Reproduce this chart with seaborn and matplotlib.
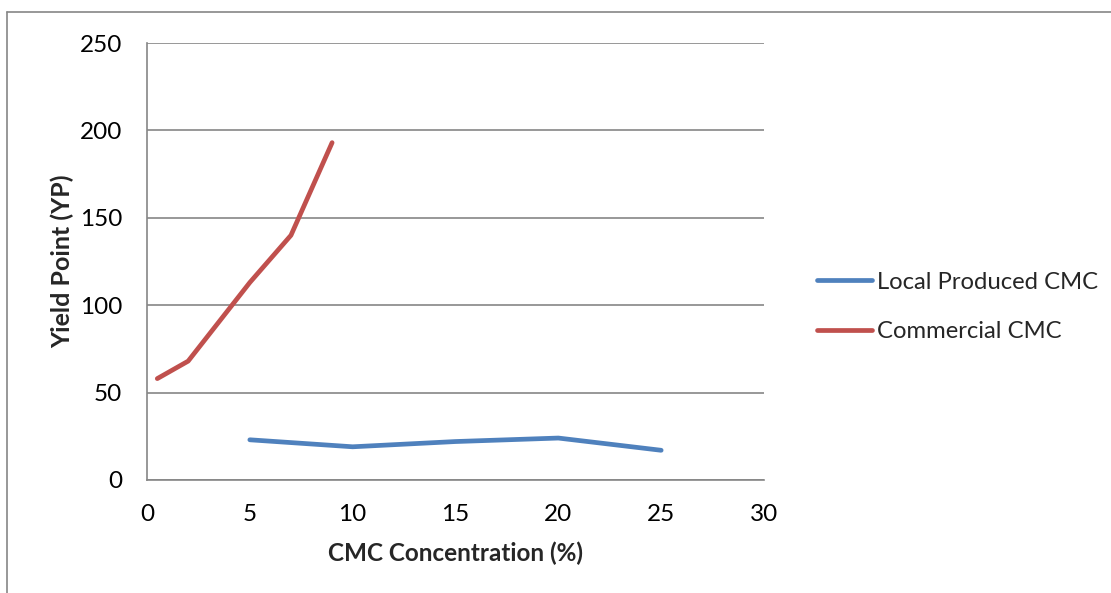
import matplotlib
matplotlib.use("Agg")
import matplotlib.pyplot as plt
import seaborn as sns
import pandas as pd
from matplotlib.lines import Line2D

# Data
local_x = [5, 10, 15, 20, 25]
local_y = [23, 19, 22, 24, 17]
comm_x = [0.5, 2, 5, 7, 9]
comm_y = [58, 68, 113, 140, 193]
series_names = ["Local Produced CMC", "Commercial CMC"]
colors = ["#4F81BD", "#C0504D"]
x_ticks = [0, 5, 10, 15, 20, 25, 30]
y_ticks = [0, 50, 100, 150, 200, 250]

df = pd.concat([
    pd.DataFrame({"x": local_x, "y": local_y, "series": series_names[0]}),
    pd.DataFrame({"x": comm_x, "y": comm_y, "series": series_names[1]}),
])

sns.set_style("white")
plt.rcParams["font.family"] = ["Lato", "DejaVu Sans"]

fig = plt.figure(figsize=(11.11, 5.93), dpi=100)
ax = fig.add_axes([147 / 1111, 1 - 480 / 593, (764 - 147) / 1111, (480 - 43) / 593])

sns.lineplot(data=df, x="x", y="y", hue="series", palette=colors, sort=False,
             linewidth=3.4, ax=ax, legend=False, solid_capstyle="round",
             solid_joinstyle="round")

ax.set_xlim(0, 30)
ax.set_ylim(0, 250)
ax.set_xticks(x_ticks)
ax.set_yticks(y_ticks)
ax.tick_params(axis="x", length=0, labelsize=17.5, pad=17, colors="black")
ax.tick_params(axis="y", length=0, labelsize=17.5, pad=18, colors="black")
ax.grid(axis="y", color="#868686", linewidth=1.2)
ax.set_axisbelow(True)
for s in ["top", "right"]:
    ax.spines[s].set_visible(False)
for s in ["left", "bottom"]:
    ax.spines[s].set_color("#868686")
    ax.spines[s].set_linewidth(1.2)

ax.set_xlabel("CMC Concentration (%)", fontsize=17.5, fontweight="bold", labelpad=12)
ax.set_ylabel("Yield Point (YP)", fontsize=18, fontweight="bold", labelpad=4)

handles = [Line2D([0], [0], color=c, linewidth=3.4, solid_capstyle="round") for c in colors]
fig.legend(handles, series_names, loc="center left", bbox_to_anchor=(817 / 1111, 1 - 307 / 593),
           frameon=False, fontsize=17.2, handlelength=2.3, handletextpad=0.2, labelspacing=1.2,
           borderpad=0, borderaxespad=0)

# outer chart frame (partially visible)
fig.add_artist(Line2D([7 / 1111, 7 / 1111], [0, 1 - 12 / 593], transform=fig.transFigure,
                      color="#868686", linewidth=1.2))
fig.add_artist(Line2D([7 / 1111, 1], [1 - 12 / 593, 1 - 12 / 593], transform=fig.transFigure,
                      color="#868686", linewidth=1.2))

fig.savefig("out.png", dpi=100)
